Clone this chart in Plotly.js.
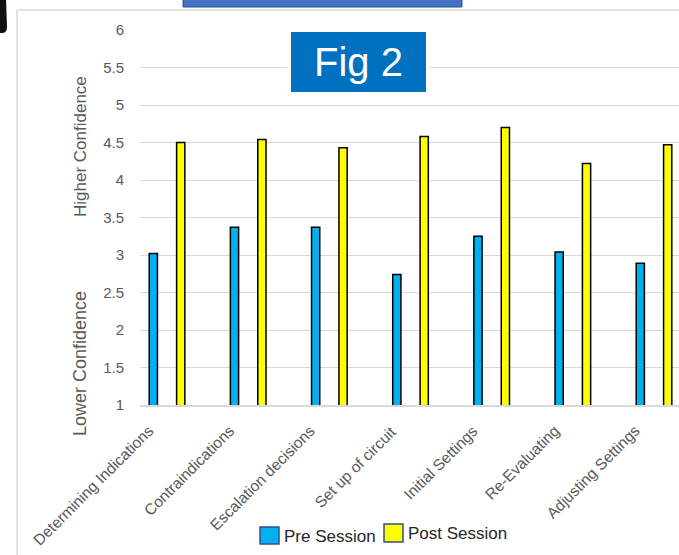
<!DOCTYPE html>
<html>
<head>
<meta charset="utf-8">
<script src="https://cdn.plot.ly/plotly-3.0.1.min.js"></script>
<style>
  html, body { margin: 0; padding: 0; background: #ffffff; }
  #chart { width: 679px; height: 555px; }
</style>
</head>
<body>
<div id="chart"></div>
<script>
// Confidence ratings before and after the session, by topic
const categories = [
  "Determining Indications",
  "Contraindications",
  "Escalation decisions",
  "Set up of circuit",
  "Initial Settings",
  "Re-Evaluating",
  "Adjusting Settings"
];
const preSession  = [3.02, 3.37, 3.37, 2.74, 3.25, 3.04, 2.89];
const postSession = [4.50, 4.54, 4.43, 4.58, 4.70, 4.22, 4.47];
const seriesNames = ["Pre Session", "Post Session"];
const yTickValues = [1, 1.5, 2, 2.5, 3, 3.5, 4, 4.5, 5, 5.5, 6];

const W = 679, H = 555;
const M = { l: 140, r: 0, t: 30, b: 150 };
const plotW = W - M.l - M.r, plotH = H - M.t - M.b;
// pixel -> paper coordinates
const px = x => (x - M.l) / plotW;
const py = y => (H - M.b - y) / plotH;

const BLUE = "#00B0F0", YELLOW = "#FFFF00";
const FONT = "Liberation Sans, Arial, sans-serif";

const traces = [
  {
    type: "bar", name: seriesNames[0], x: categories, y: preSession,
    marker: { color: BLUE, line: { color: "#000000", width: 1.5 } },
    hoverinfo: "x+y", showlegend: false
  },
  {
    type: "bar", name: seriesNames[1], x: categories, y: postSession,
    marker: { color: YELLOW, line: { color: "#000000", width: 1.5 } },
    hoverinfo: "x+y", showlegend: false
  }
];

const grey = "#D9D9D9";
const shapes = [
  // chart frame
  { type: "line", xref: "paper", yref: "paper", x0: px(17), x1: px(17), y0: py(10), y1: py(560),
    line: { color: grey, width: 1.5 } },
  { type: "line", xref: "paper", yref: "paper", x0: px(17), x1: px(690), y0: py(10), y1: py(10),
    line: { color: grey, width: 1.5 } },
  // strip at the top edge
  { type: "rect", xref: "paper", yref: "paper", x0: px(183), x1: px(462), y0: py(-5), y1: py(7),
    fillcolor: "#4472C4", line: { color: "#2F528F", width: 1 } },
  // dark tab at the left edge
  { type: "path", xref: "paper", yref: "paper",
    path: `M ${px(-5)} ${py(-2)} L ${px(6)} ${py(-2)} L ${px(7)} ${py(27)} Q ${px(7)} ${py(33)} ${px(2)} ${py(33)} L ${px(-5)} ${py(33)} Z`,
    fillcolor: "#111111", line: { width: 0 } },
  // figure badge
  { type: "rect", xref: "paper", yref: "paper", x0: px(289), x1: px(428), y0: py(94), y1: py(30),
    fillcolor: "#0070C0", line: { color: "#ffffff", width: 4 }, layer: "above" },
  // legend swatches
  { type: "rect", xref: "paper", yref: "paper", x0: px(260), x1: px(279), y0: py(544), y1: py(527),
    fillcolor: BLUE, line: { color: "#2F528F", width: 1.5 } },
  { type: "rect", xref: "paper", yref: "paper", x0: px(384), x1: px(403), y0: py(542), y1: py(524),
    fillcolor: YELLOW, line: { color: "#2F528F", width: 1.5 } }
];

const annotations = [
  { text: "Fig 2", xref: "paper", yref: "paper", x: px(358.5), y: py(62),
    xanchor: "center", yanchor: "middle", showarrow: false,
    font: { family: FONT, size: 40, color: "#ffffff" } },
  { text: "Higher Confidence", xref: "paper", yref: "paper", x: px(80), y: py(147),
    xanchor: "center", yanchor: "middle", textangle: -90, showarrow: false,
    font: { family: FONT, size: 17, color: "#595959" } },
  { text: "Lower Confidence", xref: "paper", yref: "paper", x: px(80), y: py(364),
    xanchor: "center", yanchor: "middle", textangle: -90, showarrow: false,
    font: { family: FONT, size: 18, color: "#595959" } },
  { text: seriesNames[0], xref: "paper", yref: "paper", x: px(282), y: py(536),
    xanchor: "left", yanchor: "middle", showarrow: false,
    font: { family: FONT, size: 17, color: "#262626" } },
  { text: seriesNames[1], xref: "paper", yref: "paper", x: px(406), y: py(533),
    xanchor: "left", yanchor: "middle", showarrow: false,
    font: { family: FONT, size: 17, color: "#262626" } }
];

// slanted category labels, right end tucked just left of each category
categories.forEach(c => {
  annotations.push({
    text: c, xref: "x", yref: "paper", x: c, y: 0,
    xanchor: "right", yanchor: "top", xshift: -8, yshift: -14,
    textangle: -45, showarrow: false,
    font: { family: FONT, size: 15.5, color: "#595959" }
  });
});

const layout = {
  width: W, height: H,
  margin: M,
  paper_bgcolor: "#ffffff", plot_bgcolor: "#ffffff",
  barmode: "group", bargap: 0.325, bargroupgap: 0.7,
  showlegend: false,
  font: { family: FONT, color: "#595959" },
  xaxis: {
    type: "category", range: [-0.333, 6.308],
    showticklabels: false,
    showgrid: false, zeroline: false,
    showline: true, linecolor: grey, linewidth: 1.5,
    ticks: "", fixedrange: true
  },
  yaxis: {
    range: [1, 6], tickvals: yTickValues,
    tickfont: { size: 15, color: "#595959" },
    showgrid: true, gridcolor: grey, gridwidth: 1,
    zeroline: false, showline: false, ticks: "",
    ticklabelstandoff: 15, fixedrange: true
  },
  shapes: shapes,
  annotations: annotations
};

Plotly.newPlot("chart", traces, layout, { displayModeBar: false, staticPlot: true });
</script>
</body>
</html>
